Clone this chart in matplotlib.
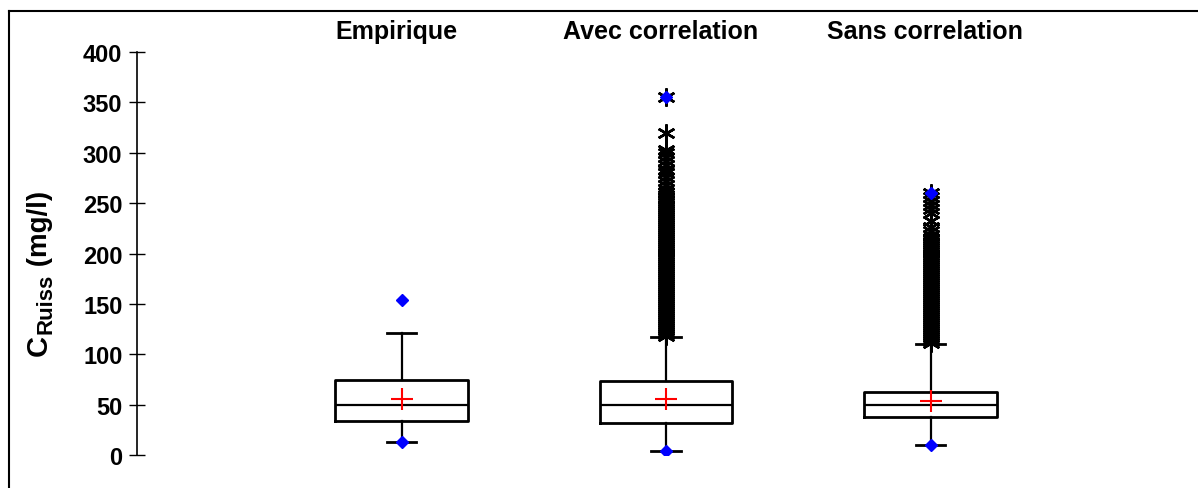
import matplotlib
matplotlib.use("Agg")
import matplotlib.pyplot as plt
from matplotlib.lines import Line2D

plt.rcParams['font.family'] = ['Liberation Sans', 'DejaVu Sans']

categories = ["Empirique", "Avec correlation", "Sans correlation"]
q1 = [33.7, 32.0, 37.7]
median = [49.6, 49.6, 49.6]
q3 = [74.4, 73.4, 62.5]
mean = [55.6, 55.6, 53.6]
whisker_low = [12.9, 4.0, 10.0]
whisker_high = [121.0, 117.0, 110.0]
minimum = [12.9, 4.0, 10.0]
maximum = [154.0, 355.0, 260.0]

outliers_empirique = []
outliers_avec = [118, 120, 122, 124, 126, 128, 130, 132, 134, 136, 138, 140, 142, 144,
                 146, 148, 150, 152, 154, 156, 158, 160, 162, 164, 166, 168, 170, 172,
                 174, 176, 178, 180, 182, 184, 186, 188, 190, 192, 194, 196, 198, 200,
                 202, 204, 206, 208, 210, 212, 214, 216, 218, 220, 222, 224, 226, 228,
                 230, 232, 234, 236, 238, 240, 242, 244, 246, 248, 250, 252, 255, 258,
                 261, 264, 268, 272, 276, 280, 283, 288, 292, 296, 300, 303, 320, 355]
outliers_sans = [111, 113, 115, 117, 119, 121, 123, 125, 127, 129, 131, 133, 135, 137,
                 139, 141, 143, 145, 147, 149, 151, 153, 155, 157, 159, 161, 163, 165,
                 167, 169, 171, 173, 175, 177, 179, 181, 183, 185, 187, 189, 191, 193,
                 195, 197, 199, 201, 203, 205, 207, 209, 211, 213, 215, 218, 222, 226,
                 232, 240, 244, 248, 252, 256, 260]
outliers = [outliers_empirique, outliers_avec, outliers_sans]

yticks = [0, 50, 100, 150, 200, 250, 300, 350, 400]
ylabel_main = "C"
ylabel_sub = "Ruiss"
ylabel_unit = " (mg/l)"

W, H = 1198, 489
fig = plt.figure(figsize=(W / 100, H / 100), dpi=100)
ax = fig.add_axes([137 / W, (H - 456) / H, (1195 - 137) / W, (456 - 53) / H])

positions = [1, 2, 3]
stats = []
for i, name in enumerate(categories):
    stats.append(dict(label=name, q1=q1[i], med=median[i], q3=q3[i], mean=mean[i],
                      whislo=whisker_low[i], whishi=whisker_high[i], fliers=outliers[i]))

ax.bxp(stats, positions=positions, widths=0.5, capwidths=0.11, showmeans=True,
       showfliers=True, patch_artist=False,
       boxprops=dict(color='black', linewidth=2),
       medianprops=dict(color='black', linewidth=1.6),
       whiskerprops=dict(color='black', linewidth=1.6),
       capprops=dict(color='black', linewidth=2),
       meanprops=dict(marker='+', markeredgecolor='red', markersize=16, markeredgewidth=1.5),
       flierprops=dict(marker=(6, 2, 0), markeredgecolor='black', markerfacecolor='black',
                       markersize=13, markeredgewidth=1.8, linestyle='none'))

# blue diamonds for min and max
ax.plot(positions, minimum, linestyle='none', marker='D', color='blue', markersize=6.5, zorder=5)
ax.plot(positions, maximum, linestyle='none', marker='D', color='blue', markersize=6.5, zorder=5)

ax.set_xlim(0, 4)
ax.set_ylim(0, 400)
ax.set_yticks(yticks)
ax.set_yticklabels([str(t) for t in yticks], fontsize=17, fontweight='bold')
ax.tick_params(axis='y', direction='inout', length=11, width=1, pad=5)
ax.set_xticks([])
for s in ['top', 'right', 'bottom']:
    ax.spines[s].set_visible(False)
ax.spines['left'].set_linewidth(1.2)

for p, name in zip(positions, categories):
    ax.text(p - 0.02, 1.052, name, transform=ax.get_xaxis_transform(), ha='center', va='center',
            fontsize=18, fontweight='bold')

# y label built from pieces (main letter, large subscript, unit), rotated
fig.canvas.draw()
renderer = fig.canvas.get_renderer()
base_x = 47 / W
y_start = (H - 356) / H
t1 = fig.text(base_x, y_start, ylabel_main, rotation=90, rotation_mode='anchor',
              ha='left', va='baseline', fontsize=21, fontweight='bold')
bb = t1.get_window_extent(renderer)
t2 = fig.text(base_x + 4 / W, (bb.y1 + 1) / H, ylabel_sub, rotation=90, rotation_mode='anchor',
              ha='left', va='baseline', fontsize=16, fontweight='bold')
bb = t2.get_window_extent(renderer)
t3 = fig.text(base_x, (bb.y1) / H, ylabel_unit, rotation=90, rotation_mode='anchor',
              ha='left', va='baseline', fontsize=20, fontweight='bold')

# outer frame lines (top and left)
fig.add_artist(Line2D([9 / W, 9 / W], [0, (H - 12) / H], color='black', linewidth=1.5,
                      transform=fig.transFigure))
fig.add_artist(Line2D([9 / W, 1], [(H - 12) / H, (H - 12) / H], color='black', linewidth=1.5,
                      transform=fig.transFigure))

fig.savefig("out.png", dpi=100)
